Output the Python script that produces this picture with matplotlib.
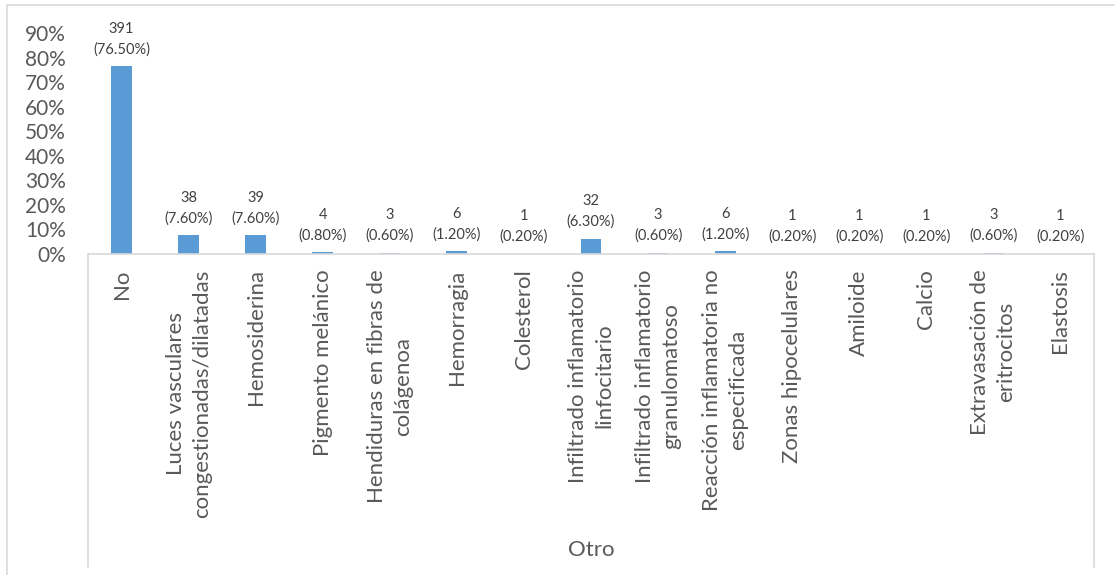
import matplotlib
matplotlib.use("Agg")
import matplotlib.pyplot as plt
from matplotlib.lines import Line2D

plt.rcParams['font.family'] = ['Lato', 'DejaVu Sans']

categories = [
    "No",
    "Luces vasculares\ncongestionadas/dilatadas",
    "Hemosiderina",
    "Pigmento melánico",
    "Hendiduras en fibras de\ncolágenoa",
    "Hemorragia",
    "Colesterol",
    "Infiltrado inflamatorio\nlinfocitario",
    "Infiltrado inflamatorio\ngranulomatoso",
    "Reacción inflamatoria no\nespecificada",
    "Zonas hipocelulares",
    "Amiloide",
    "Calcio",
    "Extravasación de\neritrocitos",
    "Elastosis",
]
counts = [391, 38, 39, 4, 3, 6, 1, 32, 3, 6, 1, 1, 1, 3, 1]
percents = [76.5, 7.6, 7.6, 0.8, 0.6, 1.2, 0.2, 6.3, 0.6, 1.2, 0.2, 0.2, 0.2, 0.6, 0.2]
group_label = "Otro"
yticks = [0, 10, 20, 30, 40, 50, 60, 70, 80, 90]

W, H = 1115, 575
fig = plt.figure(figsize=(W / 100, H / 100), dpi=100)

left, right, top, bottom = 88, 1094, 33, 254
ax = fig.add_axes([left / W, 1 - bottom / H, (right - left) / W, (bottom - top) / H])

x = list(range(len(categories)))
vals = [p / 100 for p in percents]
ax.bar(x, vals, width=0.31, color="#5B9BD5", zorder=2)

for xi, v, c, p in zip(x, vals, counts, percents):
    ax.annotate(f"{c}\n({p:.2f}%)", (xi, v), xytext=(0, 7), textcoords="offset points",
                ha="center", va="bottom", fontsize=10.5, color="#404040",
                linespacing=1.55, annotation_clip=False)

ax.set_xlim(-0.5, len(categories) - 0.5)
ax.set_ylim(0, 0.9)
ax.set_yticks([t / 100 for t in yticks])
ax.set_yticklabels([f"{t}%" for t in yticks])
ax.set_xticks(x)
ax.set_xticklabels(categories, rotation=90, ha="center", va="top",
                   multialignment="center", linespacing=1.38)

ax.tick_params(axis="y", length=0, pad=16, labelsize=15, labelcolor="#595959")
ax.tick_params(axis="x", length=0, pad=11, labelsize=16, labelcolor="#595959")

for s in ("top", "right", "left"):
    ax.spines[s].set_visible(False)
ax.spines["bottom"].set_color("#D9D9D9")
ax.spines["bottom"].set_linewidth(1.2)

# category group box
box_bottom = 567
for xp in (left, right):
    fig.add_artist(Line2D([xp / W, xp / W], [1 - bottom / H, 1 - box_bottom / H],
                          transform=fig.transFigure, color="#D9D9D9", lw=1.2))
fig.text((left + right) / 2 / W, 1 - 550 / H, group_label, ha="center", va="center",
         fontsize=16, color="#595959")

# chart area frame
fig.add_artist(Line2D([7 / W, 7 / W], [0, 1 - 5 / H], transform=fig.transFigure,
                      color="#D9D9D9", lw=1.2))
fig.add_artist(Line2D([7 / W, 1], [1 - 5 / H, 1 - 5 / H], transform=fig.transFigure,
                      color="#D9D9D9", lw=1.2))

fig.savefig("out.png", dpi=100, facecolor="white")
